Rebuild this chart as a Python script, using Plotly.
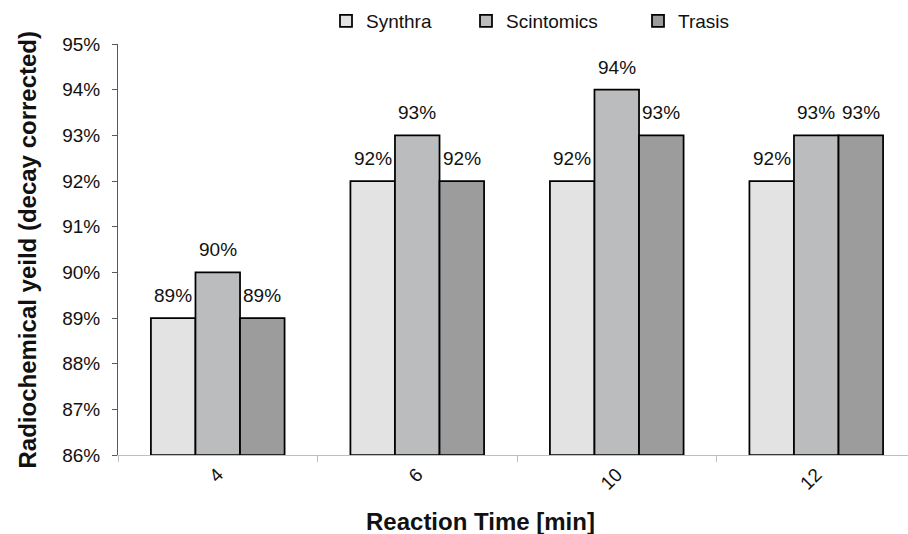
import plotly.graph_objects as go

categories = ["4", "6", "10", "12"]
synthra = [89, 92, 92, 92]
scintomics = [90, 93, 94, 93]
trasis = [89, 92, 93, 93]
series_names = ["Synthra", "Scintomics", "Trasis"]
series_colors = ["#e3e3e3", "#bbbcbe", "#9c9c9c"]
y_ticks = [86, 87, 88, 89, 90, 91, 92, 93, 94, 95]
base_val = 86

W, H = 908, 534
ML, MR, MT, MB = 118, 0, 44, 79
BARGAP = 0.33
X_RANGE = [-0.5, 3.5 - 8 / 199.5]
LABEL_FONT = dict(family="Arial", size=19, color="#111111")

plot_w = W - ML - MR
cat_px = plot_w / (X_RANGE[1] - X_RANGE[0])
bar_px = cat_px * (1 - BARGAP) / 3

fig = go.Figure()
series = [synthra, scintomics, trasis]
legend_ids = ["legend", "legend2", "legend3"]
annotations = []
for j, (name, vals, col, lg) in enumerate(zip(series_names, series, series_colors, legend_ids)):
    fig.add_trace(go.Bar(
        x=categories,
        y=[v - base_val for v in vals],
        base=base_val,
        name=name,
        legend=lg,
        showlegend=True,
        marker=dict(color=col, line=dict(color="#000000", width=1.75)),
        hoverinfo="skip",
    ))
    for i, v in enumerate(vals):
        annotations.append(dict(
            x=i, y=v, xref="x", yref="y", text=f"{v}%", showarrow=False,
            xanchor="center", yanchor="bottom", xshift=(j - 1) * bar_px, yshift=10,
            font=LABEL_FONT,
        ))

annotations += [
    dict(text="<b>Radiochemical yeild (decay corrected)</b>", xref="paper", yref="paper",
         x=(27 - ML) / plot_w, y=0.5, textangle=-90, showarrow=False,
         xanchor="center", yanchor="middle",
         font=dict(family="Arial", size=24, color="#111111")),
    dict(text="<b>Reaction Time [min]</b>", xref="paper", yref="paper",
         x=(480 - ML) / plot_w, y=(H - MB - 521) / (H - MT - MB), showarrow=False,
         xanchor="center", yanchor="middle",
         font=dict(family="Arial", size=24, color="#111111")),
]

leg_common = dict(orientation="h", xref="container", yref="container",
                  y=1 - 21 / H, xanchor="left", yanchor="middle",
                  font=dict(family="Arial", size=19, color="#111111"),
                  bgcolor="rgba(0,0,0,0)")

fig.update_layout(
    width=W, height=H,
    margin=dict(l=ML, r=MR, t=MT, b=MB, autoexpand=False),
    paper_bgcolor="white", plot_bgcolor="white",
    barmode="group", bargap=BARGAP, bargroupgap=0,
    showlegend=True,
    font=dict(family="Arial", color="#111111"),
    xaxis=dict(
        type="category",
        range=X_RANGE,
        showline=True, linecolor="#bfbfbf", linewidth=1,
        ticks="outside", ticklen=6, tickcolor="#bfbfbf", tickson="boundaries",
        tickangle=-45, tickfont=LABEL_FONT,
        showgrid=False, zeroline=False, automargin=False,
    ),
    yaxis=dict(
        range=[86, 95],
        tickvals=y_ticks, ticktext=[f"{t}%" for t in y_ticks],
        showline=True, linecolor="#595959", linewidth=1,
        ticks="outside", ticklen=5, tickcolor="#595959",
        ticklabelstandoff=8,
        tickfont=LABEL_FONT,
        showgrid=False, zeroline=False, automargin=False,
    ),
    legend=dict(x=(368 - 42) / W, **leg_common),
    legend2=dict(x=(508 - 42) / W, **leg_common),
    legend3=dict(x=(680 - 42) / W, **leg_common),
    annotations=annotations,
)

fig.write_html("out.html")
